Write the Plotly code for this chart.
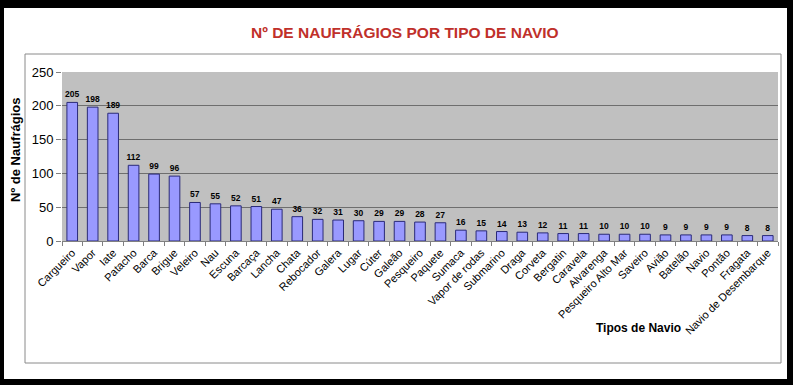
import plotly.graph_objects as go

categorias = ["Cargueiro", "Vapor", "Iate", "Patacho", "Barca", "Brigue", "Veleiro", "Nau",
              "Escuna", "Barcaça", "Lancha", "Chata", "Rebocador", "Galera", "Lugar", "Cúter",
              "Galeão", "Pesqueiro", "Paquete", "Sumaca", "Vapor de rodas", "Submarino", "Draga",
              "Corveta", "Bergatin", "Caravela", "Alvarenga", "Pesqueiro Alto Mar", "Saveiro",
              "Avião", "Batelão", "Navio", "Pontão", "Fragata", "Navio de Desembarque"]
naufragios = [205, 198, 189, 112, 99, 96, 57, 55, 52, 51, 47, 36, 32, 31, 30, 29, 29, 28, 27,
              16, 15, 14, 13, 12, 11, 11, 10, 10, 10, 9, 9, 9, 9, 8, 8]
y_ticks = [0, 50, 100, 150, 200, 250]

W, H = 793, 385
L, R, T, B = 62, 15, 72, 144
PW, PH = W - L - R, H - T - B


def px(x):
    return (x - L) / PW


def py(y):
    return (H - B - y) / PH


FONT = "Liberation Sans, Arial, sans-serif"

fig = go.Figure(go.Bar(
    x=categorias, y=naufragios,
    marker=dict(color="#9999ff", line=dict(color="#2a2a78", width=1)),
    text=[str(v) for v in naufragios], textposition="outside", constraintext="none",
    textfont=dict(family=FONT, size=8.5, color="black", weight="bold"),
    cliponaxis=False,
))

shapes = [
    # chart box
    dict(type="rect", xref="paper", yref="paper", x0=px(25), x1=px(781), y0=py(363), y1=py(54),
         line=dict(color="#8a8a8a", width=1), layer="below"),
    # black frame
    dict(type="rect", xref="paper", yref="paper", x0=px(0), x1=px(W), y0=py(0), y1=py(8),
         fillcolor="black", line=dict(width=0)),
    dict(type="rect", xref="paper", yref="paper", x0=px(0), x1=px(W), y0=py(379), y1=py(H),
         fillcolor="black", line=dict(width=0)),
    dict(type="rect", xref="paper", yref="paper", x0=px(0), x1=px(4), y0=py(0), y1=py(H),
         fillcolor="black", line=dict(width=0)),
    dict(type="rect", xref="paper", yref="paper", x0=px(787), x1=px(W), y0=py(0), y1=py(H),
         fillcolor="black", line=dict(width=0)),
]

annotations = [
    dict(text="<b>Nº DE NAUFRÁGIOS POR TIPO DE NAVIO</b>", x=px(405), y=py(33), xref="paper",
         yref="paper", showarrow=False, xanchor="center", yanchor="middle",
         font=dict(family=FONT, size=15.5, color="#c0302a")),
    dict(text="<b>Nº de Naufrágios</b>", x=px(15), y=py(150), xref="paper", yref="paper",
         showarrow=False, textangle=-90, xanchor="center", yanchor="middle",
         font=dict(family=FONT, size=13, color="black")),
    dict(text="<b>Tipos de Navio</b>", x=px(638), y=py(328), xref="paper", yref="paper",
         showarrow=False, xanchor="center", yanchor="middle",
         font=dict(family=FONT, size=12, color="black")),
]

fig.update_layout(
    width=W, height=H,
    margin=dict(l=L, r=R, t=T, b=B, pad=0, autoexpand=False),
    paper_bgcolor="white", plot_bgcolor="#c0c0c0",
    bargap=0.48, showlegend=False,
    shapes=shapes, annotations=annotations,
    font=dict(family=FONT, color="black"),
)
fig.update_xaxes(
    tickangle=-45, tickfont=dict(family=FONT, size=11, color="black"),
    ticks="outside", tickson="boundaries", ticklen=4, tickcolor="#808080",
    showline=True, linecolor="#808080", linewidth=1, showgrid=False, automargin=False,
)
fig.update_yaxes(
    range=[0, 250], tickvals=y_ticks, ticktext=[str(v) for v in y_ticks],
    tickfont=dict(family=FONT, size=13, color="black"),
    ticks="outside", ticklen=5, tickcolor="#808080",
    showgrid=True, gridcolor="#6e6e6e", gridwidth=1, zeroline=False,
    showline=False, automargin=False,
)

fig.write_html(
    "out.html",
    config={"displayModeBar": False},
    post_script="document.body.style.margin='0';document.body.style.padding='0';"
                "document.documentElement.style.overflow='hidden';",
)
